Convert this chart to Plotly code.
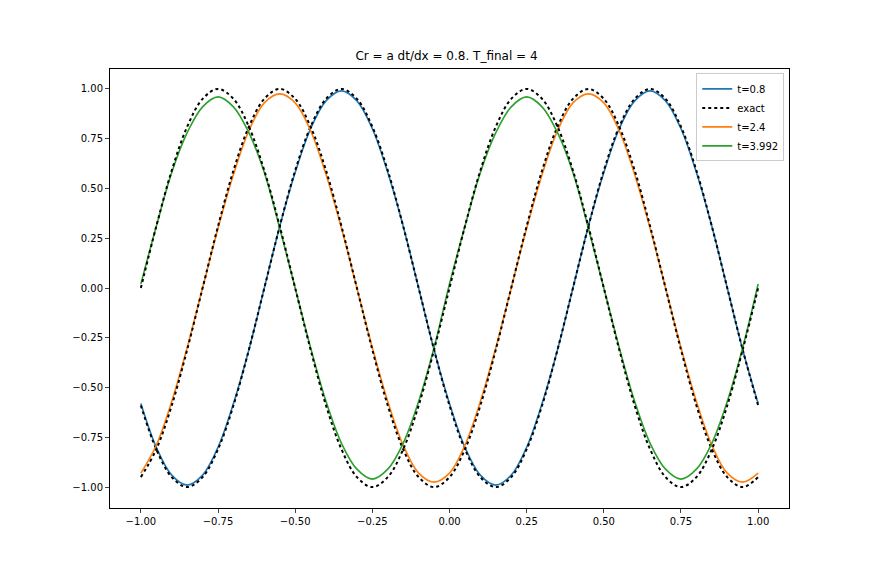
import numpy as np
import plotly.graph_objects as go

x = list(np.round(np.linspace(-1, 1, 41), 2))

num_a = [-.58,-.80,-.94,-.99,-.94,-.80,-.58,-.31,0,.31,.58,.80,.94,.99,.94,.80,.58,.31,0,-.31,
         -.58,-.80,-.94,-.99,-.94,-.80,-.58,-.31,0,.31,.58,.80,.94,.99,.94,.80,.58,.31,0,-.31,-.58]
exact_a = [-.59,-.81,-.95,-1,-.95,-.81,-.59,-.31,0,.31,.59,.81,.95,1,.95,.81,.59,.31,0,-.31,
           -.59,-.81,-.95,-1,-.95,-.81,-.59,-.31,0,.31,.59,.81,.95,1,.95,.81,.59,.31,0,-.31,-.59]
num_b = [-.93,-.79,-.57,-.30,0,.30,.57,.79,.93,.975,.93,.79,.57,.30,0,-.30,-.57,-.79,-.93,-.975,
         -.93,-.79,-.57,-.30,0,.30,.57,.79,.93,.975,.93,.79,.57,.30,0,-.30,-.57,-.79,-.93,-.975,-.93]
exact_b = [-.95,-.81,-.59,-.31,0,.31,.59,.81,.95,1,.95,.81,.59,.31,0,-.31,-.59,-.81,-.95,-1,
           -.95,-.81,-.59,-.31,0,.31,.59,.81,.95,1,.95,.81,.59,.31,0,-.31,-.59,-.81,-.95,-1,-.95]
num_c = [.02,.31,.58,.78,.91,.96,.91,.78,.58,.30,0,-.30,-.57,-.78,-.91,-.96,-.91,-.78,-.57,-.30,
         .02,.31,.58,.78,.91,.96,.91,.78,.58,.30,0,-.30,-.57,-.78,-.91,-.96,-.91,-.78,-.57,-.30,.02]
exact_c = [0,.31,.59,.81,.95,1,.95,.81,.59,.31,0,-.31,-.59,-.81,-.95,-1,-.95,-.81,-.59,-.31,
           0,.31,.59,.81,.95,1,.95,.81,.59,.31,0,-.31,-.59,-.81,-.95,-1,-.95,-.81,-.59,-.31,0]

tick_vals = [-1, -0.75, -0.5, -0.25, 0, 0.25, 0.5, 0.75, 1]

fig = go.Figure()
def solid(y, name, color):
    fig.add_trace(go.Scatter(x=x, y=y, mode="lines", name=name,
                             line=dict(color=color, width=1.6, shape="spline")))
def dotted(y, show):
    fig.add_trace(go.Scatter(x=x, y=y, mode="lines", name="exact", showlegend=show,
                             line=dict(color="black", width=2, dash="dot", shape="spline")))

solid(num_a, "t=0.8", "#1f77b4"); dotted(exact_a, True)
solid(num_b, "t=2.4", "#ff7f0e"); dotted(exact_b, False)
solid(num_c, "t=3.992", "#2ca02c"); dotted(exact_c, False)

axis = dict(showgrid=False, zeroline=False, showline=True, mirror=True, linecolor="black",
            linewidth=1, ticks="outside", ticklen=4, tickformat=".2f", tickvals=tick_vals,
            tickfont=dict(size=10, color="black"))
fig.update_layout(
    width=877, height=579, plot_bgcolor="white", paper_bgcolor="white",
    margin=dict(l=102, r=96, t=61, b=79),
    font=dict(family="DejaVu Sans", color="black"),
    title=dict(text="Cr = a dt/dx = 0.8. T_final = 4", x=0.5, xanchor="center",
               y=1 - 52/579, yanchor="bottom", font=dict(size=12)),
    xaxis=dict(range=[-1.1, 1.1], **axis),
    yaxis=dict(range=[-1.105, 1.1], **axis),
    legend=dict(x=0.993, y=0.99, xanchor="right", yanchor="top", bordercolor="#ccc",
                borderwidth=1, font=dict(size=10), bgcolor="white"),
)
fig.write_html("out.html")
